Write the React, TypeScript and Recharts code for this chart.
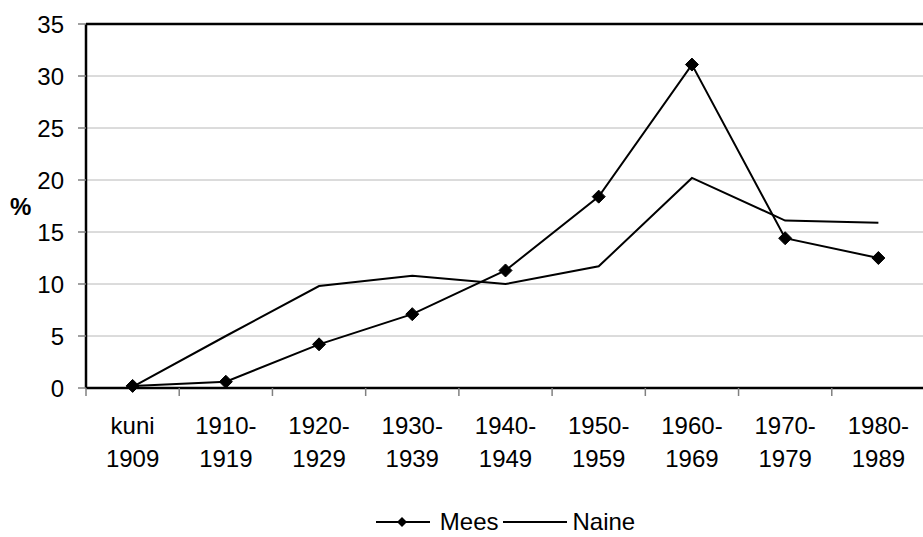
import React from "react";
import { LineChart, Line, XAxis, YAxis, CartesianGrid, Legend, ReferenceLine } from "recharts";

const categories = ["kuni 1909", "1910-1919", "1920-1929", "1930-1939", "1940-1949", "1950-1959", "1960-1969", "1970-1979", "1980-1989"];
const mees = [0.2, 0.6, 4.2, 7.1, 11.3, 18.4, 31.1, 14.4, 12.5];
const naine = [0.1, 5.0, 9.8, 10.8, 10.0, 11.7, 20.2, 16.1, 15.9];
const yTicks = [0, 5, 10, 15, 20, 25, 30, 35];

const data = categories.map((c, i) => ({ cat: c, Mees: mees[i], Naine: naine[i] }));

const FONT = "'Liberation Sans', Arial, sans-serif";
const PLOT_W = 839;
const HALF_BAND = PLOT_W / categories.length / 2;

function splitCat(c: string): string[] {
  if (c.indexOf(" ") >= 0) return c.split(" ");
  const k = c.indexOf("-");
  return [c.slice(0, k + 1), c.slice(k + 1)];
}

const XTick = (props: any) => {
  const { x, y, payload } = props;
  const lines = splitCat(String(payload.value));
  return (
    <g>
      <line x1={x - HALF_BAND} x2={x - HALF_BAND} y1={y} y2={y + 8} stroke="#808080" strokeWidth={1.5} />
      <text x={x} y={y + 46} textAnchor="middle" fontSize={24} fill="#000" fontFamily={FONT}>{lines[0]}</text>
      <text x={x} y={y + 79} textAnchor="middle" fontSize={24} fill="#000" fontFamily={FONT}>{lines[1]}</text>
    </g>
  );
};

const Diamond = (props: any) => {
  const { cx, cy } = props;
  if (cx == null || cy == null) return null;
  const r = 6.5;
  return <polygon points={`${cx},${cy - r} ${cx + r},${cy} ${cx},${cy + r} ${cx - r},${cy}`} fill="#000" stroke="#000" />;
};

const LegendContent = () => (
  <div style={{ display: "flex", justifyContent: "center", alignItems: "center", height: 26, lineHeight: "26px", fontFamily: FONT, fontSize: 24, color: "#000", paddingLeft: 86 }}>
    <svg width={54} height={14} style={{ marginRight: 10 }}>
      <line x1={0} x2={54} y1={7} y2={7} stroke="#000" strokeWidth={2} />
      <polygon points="26,2 31,7 26,12 21,7" fill="#000" />
    </svg>
    <span style={{ marginRight: 5 }}>Mees</span>
    <svg width={64} height={14} style={{ marginRight: 5 }}>
      <line x1={0} x2={64} y1={7} y2={7} stroke="#000" strokeWidth={2} />
    </svg>
    <span>Naine</span>
  </div>
);

export default function App() {
  return (
    <div style={{ position: "absolute", left: 0, top: 0, width: 923, height: 537, overflow: "hidden", background: "#fff" }}>
      <LineChart width={925} height={537} data={data} margin={{ top: 24, right: 0, bottom: 0, left: 0 }}>
        <CartesianGrid vertical={false} stroke="#b8b8b8" strokeWidth={1} />
        <XAxis
          dataKey="cat"
          height={119}
          padding={{ left: HALF_BAND, right: HALF_BAND }}
          axisLine={{ stroke: "#000", strokeWidth: 2.5 }}
          tickLine={false}
          tickSize={0}
          tickMargin={0}
          interval={0}
          tick={<XTick />}
        />
        <YAxis
          width={86}
          domain={[0, 35]}
          ticks={yTicks}
          interval={0}
          axisLine={{ stroke: "#000", strokeWidth: 2.5 }}
          tickLine={{ stroke: "#808080", strokeWidth: 1.5 }}
          tickSize={8}
          tickMargin={14}
          tick={{ fontSize: 24, fill: "#000", fontFamily: FONT }}
          label={{ value: "%", position: "insideLeft", offset: 10, style: { fontWeight: "bold", fontSize: 24, fill: "#000", fontFamily: FONT } }}
        />
        <ReferenceLine y={35} stroke="#000" strokeWidth={2.5} />
        <Legend verticalAlign="bottom" height={30} wrapperStyle={{ bottom: -2 }} content={<LegendContent />} />
        <Line type="linear" dataKey="Naine" stroke="#000" strokeWidth={2} dot={false} isAnimationActive={false} />
        <Line type="linear" dataKey="Mees" stroke="#000" strokeWidth={2} dot={<Diamond />} activeDot={false} isAnimationActive={false} />
      </LineChart>
    </div>
  );
}
